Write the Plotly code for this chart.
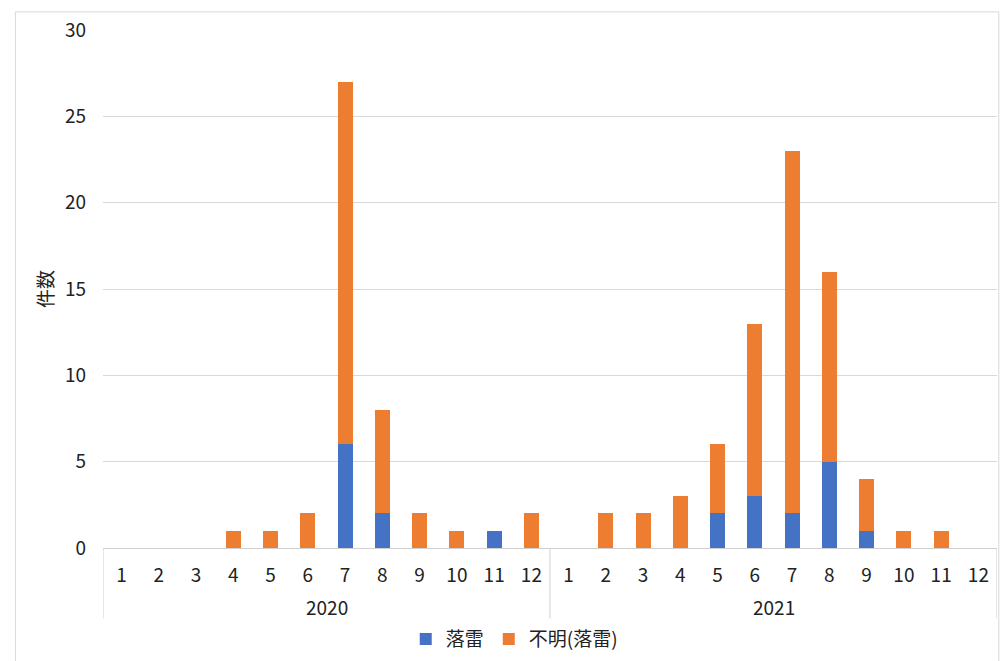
import plotly.graph_objects as go

years = ["2020"] * 12 + ["2021"] * 12
months = [str(m) for m in range(1, 13)] * 2

lightning = [0, 0, 0, 0, 0, 0, 6, 2, 0, 0, 1, 0,
             0, 0, 0, 0, 2, 3, 2, 5, 1, 0, 0, 0]
unknown_lightning = [0, 0, 0, 1, 1, 2, 21, 6, 2, 1, 0, 2,
                     0, 2, 2, 3, 4, 10, 21, 11, 3, 1, 1, 0]

font_family = "Noto Sans CJK JP"
grid_color = "#d9d9d9"

# one unique category per (year, month); months shown as tick labels
keys = [f"{y}-{m}" for y, m in zip(years, months)]

fig = go.Figure()
fig.add_trace(go.Bar(x=keys, y=lightning, name="落雷",
                     marker=dict(color="#4472C4", line=dict(width=0))))
fig.add_trace(go.Bar(x=keys, y=unknown_lightning, name="不明(落雷)",
                     marker=dict(color="#ED7D31", line=dict(width=0))))

# year group labels under the month labels, and group dividers
year_names = list(dict.fromkeys(years))
for yname in year_names:
    idx = [i for i, y in enumerate(years) if y == yname]
    center = (idx[0] + idx[-1]) / 2
    fig.add_annotation(x=center, xref="x", y=-0.112, yref="paper",
                       text=yname, showarrow=False, yanchor="middle",
                       font=dict(size=19, family=font_family, color="#222222"))
boundaries = [-0.5] + [i + 0.5 for i in range(len(years) - 1) if years[i] != years[i + 1]] + [len(years) - 0.5]
for b in boundaries:
    fig.add_shape(type="line", xref="x", yref="paper", x0=b, x1=b, y0=0, y1=-0.136,
                  line=dict(color="#d0d0d0", width=1))

fig.update_layout(
    barmode="stack",
    bargap=0.6,
    width=1000, height=661,
    margin=dict(l=103, r=3, t=30, b=109),
    paper_bgcolor="white",
    plot_bgcolor="white",
    font=dict(family=font_family, size=19, color="#222222"),
    showlegend=True,
    legend=dict(orientation="h", x=0.46, xanchor="center", y=-0.176, yanchor="middle",
                font=dict(size=19), traceorder="normal", itemsizing="constant"),
    xaxis=dict(
        type="category", automargin=False,
        range=[-0.5, len(keys) - 0.5],
        tickmode="array", tickvals=keys, ticktext=months,
        showline=True, linecolor="#d0d0d0", linewidth=1,
        showgrid=False, ticks="", ticklabelstandoff=10,
        tickfont=dict(size=19),
    ),
    yaxis=dict(
        range=[0, 30], dtick=5, automargin=False,
        showgrid=True, gridcolor=grid_color, gridwidth=1,
        zeroline=False, ticks="", ticklabelstandoff=16,
        tickfont=dict(size=19),
        title=dict(text="件数", font=dict(size=19), standoff=6),
    ),
)

# outer chart frame
fig.add_shape(type="rect", xref="paper", yref="paper",
              x0=-0.098, x1=1.002, y0=-0.25, y1=1.035,
              line=dict(color=grid_color, width=1), layer="below")

fig.write_html("out.html")
